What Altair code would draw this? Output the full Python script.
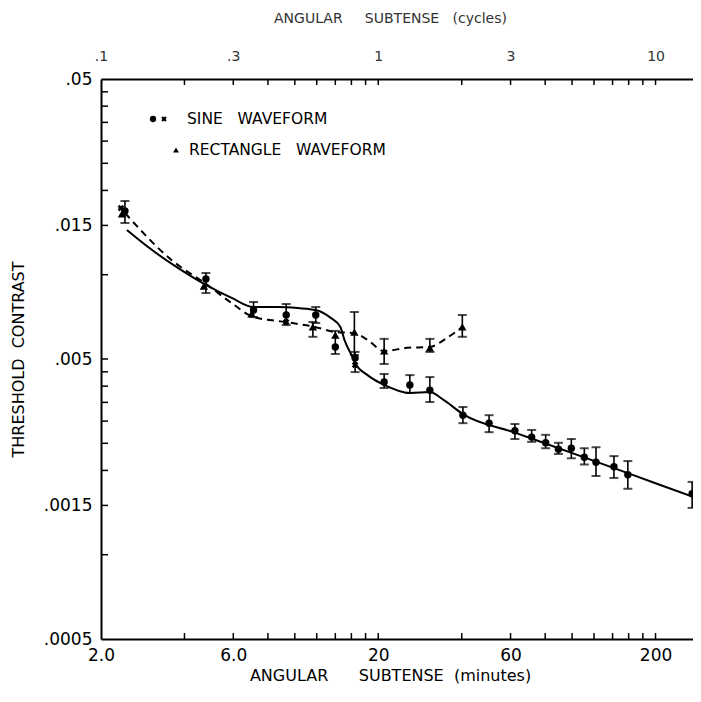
import altair as alt
import pandas as pd

# ---------------- data ----------------
# Sine waveform: angular subtense (minutes), threshold contrast, error range
sine_min = [2.44, 4.78, 7.10, 9.31, 11.9, 14.0, 16.5, 21.0, 26.0, 30.7, 40.4, 50.2,
            62.2, 71.5, 80.3, 89.3, 99.4, 110.7, 122, 141.6, 158.9, 271]
sine_thr = [0.0169, 0.00966, 0.00748, 0.00718, 0.00718, 0.00552, 0.00504, 0.00414,
            0.00404, 0.00387, 0.00315, 0.00295, 0.00277, 0.00263, 0.00251, 0.00238,
            0.0024, 0.00223, 0.00214, 0.00206, 0.00193, 0.00165]
sine_hi = [0.01833, 0.01014, 0.00799, 0.00786, 0.00767, 0.0063, 0.0053, 0.00442,
           0.00438, 0.00431, 0.00337, 0.00315, 0.00293, 0.00279, 0.00268, 0.00251,
           0.00259, 0.0024, 0.00242, 0.00225, 0.00216, 0.00182]
sine_lo = [0.0153, 0.0086, 0.00706, 0.00661, 0.00672, 0.00521, 0.00449, 0.00394,
           0.00378, 0.00351, 0.00295, 0.00274, 0.00259, 0.00253, 0.0024, 0.00229,
           0.00221, 0.0021, 0.00191, 0.00188, 0.00172, 0.00147]

# second sine observer (x marks)
cross_min = [2.36, 9.31, 16.5]
cross_thr = [0.0173, 0.00678, 0.00476]

# Rectangle waveform (triangles)
rect_min = [2.38, 4.70, 6.98, 11.62, 14.0, 16.4, 21.0, 30.7, 40.2]
rect_thr = [0.01648, 0.00911, 0.00724, 0.00651, 0.00609, 0.00624, 0.00534, 0.00548, 0.00651]
rect_err_min = [11.62, 16.4, 21.0, 30.7, 40.2]
rect_err_hi = [0.00678, 0.00736, 0.0059, 0.0059, 0.00718]
rect_err_lo = [0.006, 0.00517, 0.0048, 0.0053, 0.006]

# fitted curves
solid_min = [2.48, 2.99, 3.74, 4.78, 5.92, 7.10, 8.72, 10.27, 11.9, 13.48, 14.6, 15.1,
             16.15, 16.5, 18.3, 21.0, 26.0, 30.7, 34.4, 40.4, 62.2, 122, 200, 273]
solid_thr = [0.01444, 0.01245, 0.01066, 0.00919, 0.00826, 0.00767, 0.00767, 0.0076,
             0.00748, 0.00701, 0.00651, 0.00585, 0.00508, 0.00484, 0.00438, 0.00404,
             0.00378, 0.00381, 0.00357, 0.00318, 0.00273, 0.00215, 0.0018, 0.00161]
dashed_min = [2.44, 3.59, 4.78, 5.92, 7.10, 9.23, 11.81, 14.04, 16.4, 18.3, 21.0, 25.4,
              30.7, 35.3, 40.2]
dashed_thr = [0.01661, 0.01129, 0.00927, 0.00792, 0.00706, 0.00678, 0.00651, 0.00624,
              0.00619, 0.00585, 0.00534, 0.00548, 0.00552, 0.00594, 0.00651]

# axis labels and ticks
x_labels = [2, 6, 20, 60, 200]
x_ticks = [4, 6, 8, 10, 12, 14, 16, 18, 20, 40, 60, 80, 100, 120, 140, 160, 180, 200]
top_labels = [0.1, 0.3, 1, 3, 10]
top_ticks = [0.2, 0.3, 0.4, 0.5, 0.6, 0.7, 0.8, 0.9, 1, 2, 3, 4, 5, 6, 7, 8, 9, 10]
y_labels = [0.0005, 0.0015, 0.005, 0.015, 0.05]
y_ticks = [0.001, 0.0015, 0.002, 0.0025, 0.003, 0.0035, 0.004, 0.0045, 0.005,
           0.01, 0.015, 0.02, 0.025, 0.03, 0.035, 0.04, 0.045]

# ---------------- chart ----------------
W, H = 592, 560
FONT = "DejaVu Sans"
NB = "\u00a0"
TX = 289  # horizontal centre of the axis titles, from the plot's left edge

xs = alt.Scale(type="log", domain=[2, 273], nice=False)
ys = alt.Scale(type="log", domain=[0.0005, 0.05], nice=False)
xts = alt.Scale(type="log", domain=[0.1, 13.65], nice=False)

x_axis = alt.Axis(
    orient="bottom", values=x_labels,
    labelExpr="datum.value < 10 ? format(datum.value, '.1f') : format(datum.value, 'd')",
    title=f"ANGULAR{NB}{NB}{NB}{NB}{NB}{NB}SUBTENSE{NB}{NB}(minutes)",
    ticks=False, grid=False, domainColor="black", domainWidth=2,
    labelFlush=False, labelPadding=8, labelFontSize=17, titleFontSize=16,
    titlePadding=4, titleX=TX, titleAlign="center",
)
y_axis = alt.Axis(
    values=y_labels,
    labelExpr="substring(format(datum.value, '.4~f'), 1)",
    title=f"THRESHOLD{NB}{NB}CONTRAST",
    ticks=False, grid=False, domainColor="black", domainWidth=2,
    labelPadding=9, labelFontSize=17, titleFontSize=16, titlePadding=17,
)
top_axis = alt.Axis(
    orient="top", values=top_labels,
    labelExpr="datum.value < 1 ? substring(format(datum.value, '.1f'), 1) : format(datum.value, 'd')",
    title=f"ANGULAR{NB}{NB}{NB}{NB}{NB}SUBTENSE{NB}{NB}{NB}(cycles)",
    ticks=False, grid=False, domainColor="black", domainWidth=2,
    labelFlush=False, labelPadding=16, labelFontSize=14, titleFontSize=14,
    titlePadding=24, titleColor="#333", labelColor="#333",
    titleX=TX, titleAlign="center",
)

X = alt.X("m:Q", scale=xs, axis=x_axis)
Y = alt.Y("c:Q", scale=ys, axis=y_axis)

sine_df = pd.DataFrame({"m": sine_min, "c": sine_thr, "lo": sine_lo, "hi": sine_hi})
cross_df = pd.DataFrame({"m": cross_min, "c": cross_thr})
rect_df = pd.DataFrame({"m": rect_min, "c": rect_thr})
rerr_df = pd.DataFrame({"m": rect_err_min, "lo": rect_err_lo, "hi": rect_err_hi})
solid_df = pd.DataFrame({"m": solid_min, "c": solid_thr})
dashed_df = pd.DataFrame({"m": dashed_min, "c": dashed_thr})
xt_df = pd.DataFrame({"m": x_ticks})
yt_df = pd.DataFrame({"c": y_ticks})
tt_df = pd.DataFrame({"cy": top_ticks})
one = pd.DataFrame({"k": [0]})


def errbars(df):
    bar = alt.Chart(df).mark_rule(color="black", strokeWidth=1.6).encode(
        x=X, y=alt.Y("lo:Q", scale=ys, axis=y_axis), y2="hi:Q")
    cap_lo = alt.Chart(df).mark_tick(color="black", orient="horizontal", size=9, thickness=2).encode(
        x=X, y=alt.Y("lo:Q", scale=ys, axis=y_axis))
    cap_hi = alt.Chart(df).mark_tick(color="black", orient="horizontal", size=9, thickness=2).encode(
        x=X, y=alt.Y("hi:Q", scale=ys, axis=y_axis))
    return [bar, cap_lo, cap_hi]


solid = alt.Chart(solid_df).mark_line(color="black", strokeWidth=2, interpolate="monotone").encode(x=X, y=Y)
dashed = alt.Chart(dashed_df).mark_line(color="black", strokeWidth=2, strokeDash=[7, 5],
                                        interpolate="monotone").encode(x=X, y=Y)
sine_pts = alt.Chart(sine_df).mark_point(shape="circle", filled=True, size=55, color="black",
                                         opacity=1).encode(x=X, y=Y)
cross_pts = alt.Chart(cross_df).mark_point(shape="cross", angle=45, filled=True, size=45,
                                           color="black", opacity=1).encode(x=X, y=Y)
rect_pts = alt.Chart(rect_df).mark_point(shape="triangle-up", filled=True, size=70, color="black",
                                         opacity=1).encode(x=X, y=Y)

xtick = alt.Chart(xt_df).mark_rule(color="black", strokeWidth=1.5).encode(
    x=X, y=alt.value(H), y2=alt.value(H - 6))
ytick = alt.Chart(yt_df).mark_rule(color="black", strokeWidth=1.5).encode(
    y=Y, x=alt.value(0), x2=alt.value(7))

# legend inside the plot
leg_dot = alt.Chart(one).mark_point(shape="circle", filled=True, size=40, color="black", opacity=1).encode(
    x=alt.value(52), y=alt.value(40))
leg_x = alt.Chart(one).mark_point(shape="cross", angle=45, filled=True, size=30, color="black", opacity=1).encode(
    x=alt.value(63), y=alt.value(40))
leg_tri = alt.Chart(one).mark_point(shape="triangle-up", filled=True, size=35, color="black", opacity=1).encode(
    x=alt.value(75), y=alt.value(71))
leg_t1 = alt.Chart(one).mark_text(text=f"SINE{NB}{NB}{NB}WAVEFORM", align="left", baseline="middle",
                                  fontSize=15.5, font=FONT, color="black").encode(
    x=alt.value(86), y=alt.value(40))
leg_t2 = alt.Chart(one).mark_text(text=f"RECTANGLE{NB}{NB}{NB}WAVEFORM", align="left", baseline="middle",
                                  fontSize=15.5, font=FONT, color="black").encode(
    x=alt.value(88), y=alt.value(71))

main = alt.layer(
    solid, dashed, *errbars(sine_df), *errbars(rerr_df), sine_pts, cross_pts, rect_pts,
    xtick, ytick, leg_dot, leg_x, leg_tri, leg_t1, leg_t2,
)

top = alt.Chart(tt_df).mark_rule(color="black", strokeWidth=1.5).encode(
    x=alt.X("cy:Q", scale=xts, axis=top_axis), y=alt.value(0), y2=alt.value(6))

chart = alt.layer(main, top).resolve_scale(x="independent").properties(
    width=W, height=H,
    padding={"left": 93, "top": 71, "right": 0, "bottom": 50},
    autosize=alt.AutoSizeParams(type="none"),
).configure_view(stroke=None).configure_axis(
    labelFont=FONT, titleFont=FONT, labelColor="black", titleColor="black",
    titleFontWeight="normal",
)

chart.save("out.html", embed_options={"renderer": "svg", "actions": False})
